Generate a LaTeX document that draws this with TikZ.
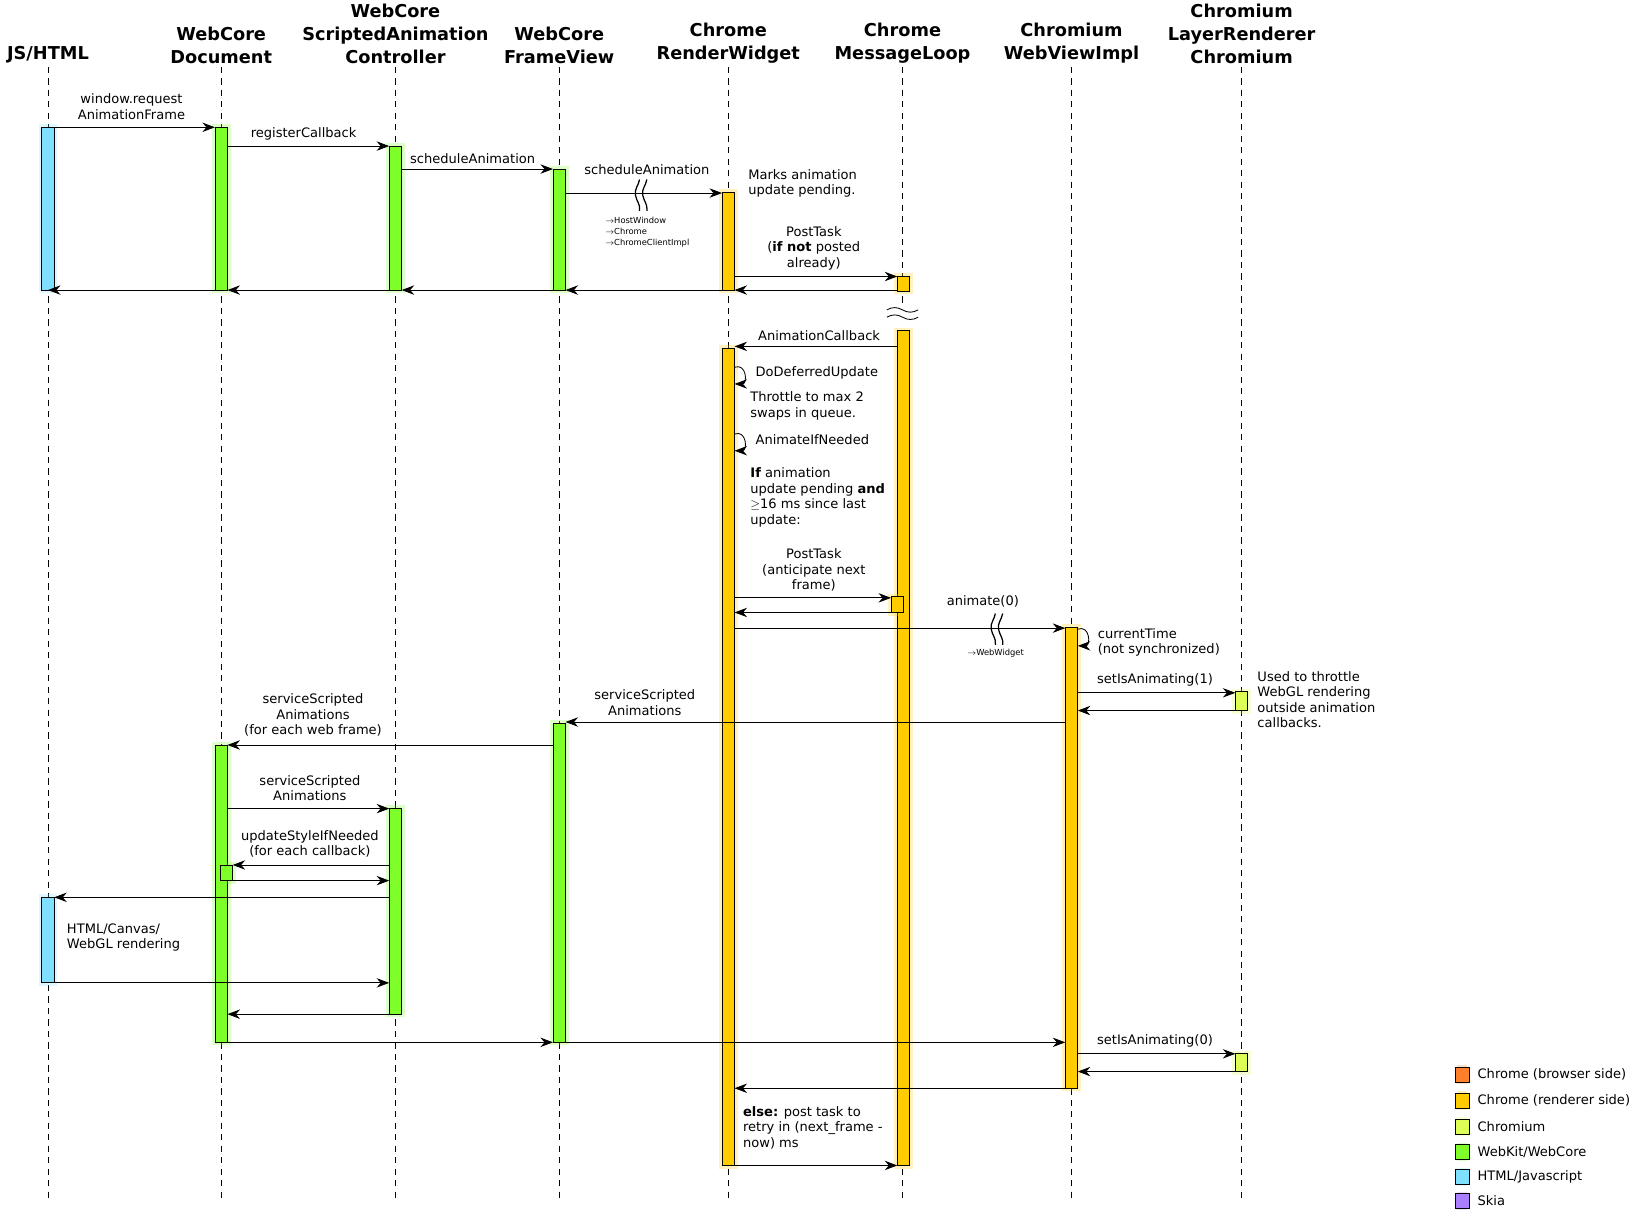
\documentclass[tikz,border=0pt]{standalone}
\usepackage{fontspec}
\setmainfont{DejaVu Sans}
\usetikzlibrary{arrows.meta}

\definecolor{cjs}{HTML}{7FDFFF}
\definecolor{cwk}{HTML}{7FFF2A}
\definecolor{crend}{HTML}{FFCC00}
\definecolor{cchm}{HTML}{DDFF55}
\definecolor{cbrow}{HTML}{FF7F2A}
\definecolor{cskia}{HTML}{AA7FFF}

\newcommand{\act}[4]{% x, y1, y2, colour
  \fill[#4, opacity=0.25] (#1-9,#2-3) rectangle (#1+9,#3+3);
  \draw[actbox, fill=#4] (#1-6,#2) rectangle (#1+6,#3);}
\newcommand{\brk}[2]{% vertical squiggle pair on a message
  \foreach \dx in {0,7}
    \draw[line width=1.2pt] (#1+\dx+3,#2-15) to[out=-100,in=100] (#1+\dx-1,#2) to[out=-80,in=80] (#1+\dx+3,#2+15);}

\begin{document}
\begin{tikzpicture}[x=1pt, y=-1pt, font=\fontsize{12.5}{15}\selectfont]
\tikzstyle{headStyle} = [anchor=south, align=center, inner sep=1pt, font=\fontsize{17}{22}\selectfont\bfseries]
\tikzstyle{lifeStyle} = [dashed, dash pattern=on 6pt off 5pt, line width=0.8pt]
\tikzstyle{actbox} = [line width=0.8pt]
\tikzstyle{msg} = [-{Stealth[length=12pt, width=9pt]}, line width=0.8pt]
\tikzstyle{lbl} = [anchor=south, align=center, inner sep=2pt]
\tikzstyle{note} = [anchor=north west, align=left, inner sep=0pt]
\tikzstyle{tiny} = [anchor=north west, align=left, inner sep=0pt, font=\fontsize{8}{10.5}\selectfont]
\useasboundingbox (0,0) rectangle (1568,1179);

% lifelines
\foreach \name/\x/\txt in {js/46/{JS/HTML}, doc/212/WebCore\\Document,
    sac/379/WebCore\\ScriptedAnimation\\Controller, fv/536/WebCore\\FrameView,
    rw/698/Chrome\\RenderWidget, ml/865/Chrome\\MessageLoop,
    wvi/1027/Chromium\\WebViewImpl, lrc/1190/Chromium\\LayerRenderer\\Chromium} {
  \coordinate (\name) at (\x,0);
  \node[headStyle] (h\name) at (\x,62) {\txt};
  \draw[lifeStyle] (\x,64) -- (\x,1150);
}

% activations
\act{46}{122}{278}{cjs}
\act{46}{860}{942}{cjs}
\act{212}{122}{278}{cwk}
\act{212}{714}{999}{cwk}
\act{217}{829}{844}{cwk}
\act{379}{140}{278}{cwk}
\act{379}{775}{972}{cwk}
\act{536}{162}{278}{cwk}
\act{536}{693}{999}{cwk}
\act{698}{184}{278}{crend}
\act{698}{334}{1117}{crend}
\fill[white] (850,290) rectangle (880,312);
\draw[thick] (850,297) to[out=30,in=150] (865,297) to[out=-30,in=-150] (880,297);
\draw[thick] (850,304) to[out=30,in=150] (865,304) to[out=-30,in=-150] (880,304);
\act{866}{265}{279}{crend}
\act{866}{317}{1117}{crend}
\act{860}{572}{587}{crend}
\act{1027}{601}{1043}{crend}
\act{1190}{663}{681}{cchm}
\act{1190}{1010}{1027}{cchm}

% first phase
\draw[msg] (46,122) -- (206,122);
\node[lbl] (m1) at (126,117) {window.request\\AnimationFrame};
\draw[msg] (218,140) -- (373,140);
\node[lbl] (m2) at (291,137) {registerCallback};
\draw[msg] (385,162) -- (530,162);
\node[lbl] (m3) at (453,159) {scheduleAnimation};
\draw[msg] (542,185) -- (692,185);
\node[lbl] (m4) at (620,170) {scheduleAnimation};
\brk{610}{187}
\node[tiny] (n4) at (580,208) {$\rightarrow$HostWindow\\$\rightarrow$Chrome\\$\rightarrow$ChromeClientImpl};
\node[note] (n5) at (717,162) {Marks animation\\update pending.};
\draw[msg] (704,265) -- (860,265);
\node[lbl] (m5) at (780,261) {PostTask\\(\textbf{if not} posted\\already)};
\draw[msg] (860,278) -- (704,278);
\draw[msg] (692,278) -- (542,278);
\draw[msg] (530,278) -- (385,278);
\draw[msg] (373,278) -- (218,278);
\draw[msg] (206,278) -- (46,278);

% animation callback
\draw[msg] (860,332) -- (704,332);
\node[lbl] (m6) at (785,329) {AnimationCallback};
\draw[msg] (704,352) to[out=20,in=0,looseness=2] (704,368);
\node[note] (m7) at (724,351) {DoDeferredUpdate};
\node[note] (n7) at (719,375) {Throttle to max 2\\swaps in queue.};
\draw[msg] (704,416) to[out=20,in=0,looseness=2] (704,432);
\node[note] (m8) at (724,416) {AnimateIfNeeded};
\node[note] (n8) at (719,448) {\textbf{If} animation\\update pending \textbf{and}\\$\geq$16 ms since last\\update:};
\draw[msg] (704,573) -- (854,573);
\node[lbl] (m9) at (780,569) {PostTask\\(anticipate next\\frame)};
\draw[msg] (854,587) -- (704,587);
\draw[msg] (704,602) -- (1021,602);
\node[lbl] (m10) at (942,584) {animate(0)};
\brk{951}{603}
\node[tiny] (n10) at (927,622) {$\rightarrow$WebWidget};
\draw[msg] (1033,603) to[out=20,in=0,looseness=2] (1033,619);
\node[note] (m11) at (1052,602) {currentTime\\(not synchronized)};
\draw[msg] (1033,664) -- (1184,664);
\node[lbl] (m12) at (1107,660) {setIsAnimating(1)};
\draw[msg] (1184,681) -- (1033,681);
\node[note] (n12) at (1205,643) {Used to throttle\\WebGL rendering\\outside animation\\callbacks.};

% service scripted animations
\draw[msg] (1021,692) -- (542,692);
\node[lbl] (m13) at (618,688) {serviceScripted\\Animations};
\draw[msg] (530,714) -- (218,714);
\node[lbl] (m14) at (300,708) {serviceScripted\\Animations\\(for each web frame)};
\draw[msg] (218,775) -- (373,775);
\node[lbl] (m15) at (297,770) {serviceScripted\\Animations};
\draw[msg] (373,829) -- (223,829);
\node[lbl] (m16) at (297,824) {updateStyleIfNeeded\\(for each callback)};
\draw[msg] (223,844) -- (373,844);
\draw[msg] (373,860) -- (52,860);
\node[note] (n17) at (64,885) {HTML/Canvas/\\WebGL rendering};
\draw[msg] (52,942) -- (373,942);
\draw[msg] (373,972) -- (218,972);
\draw[msg] (218,999) -- (530,999);
\draw[msg] (542,999) -- (1021,999);
\draw[msg] (1033,1010) -- (1184,1010);
\node[lbl] (m18) at (1107,1006) {setIsAnimating(0)};
\draw[msg] (1184,1027) -- (1033,1027);
\draw[msg] (1021,1043) -- (704,1043);
\node[note] (n19) at (712,1060) {\textbf{else:} post task to\\retry in (next\_frame -\\now) ms};
\draw[msg] (704,1117) -- (860,1117);

% legend
\foreach \c/\y/\txt in {cbrow/1030/Chrome (browser side), crend/1055/Chrome (renderer side),
    cchm/1080/Chromium, cwk/1104/{WebKit/WebCore}, cjs/1128/{HTML/Javascript}, cskia/1151/Skia} {
  \fill[\c, opacity=0.25] (1396,\y-9) rectangle (1406,\y+9);
  \draw[actbox, fill=\c] (1395,\y-7) rectangle (1408,\y+7);
  \node[anchor=west, inner sep=0pt] (l\c) at (1416,\y) {\txt};
}
\end{tikzpicture}
\end{document}
